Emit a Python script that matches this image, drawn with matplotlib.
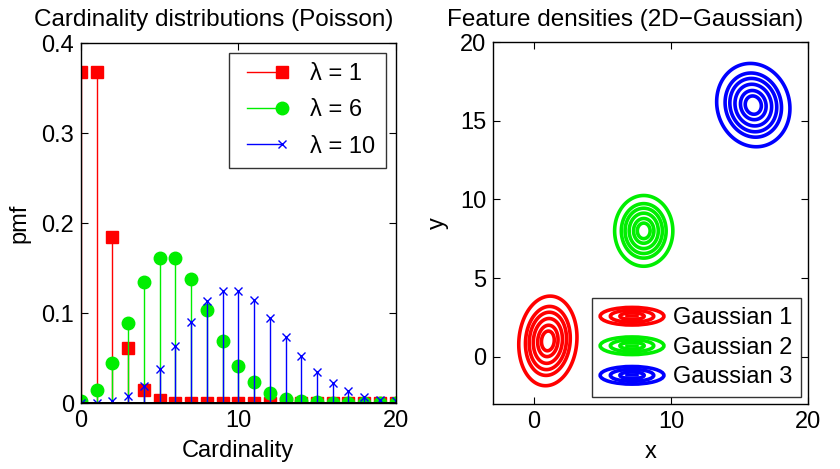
import numpy as np
import matplotlib
matplotlib.use("Agg")
import matplotlib.pyplot as plt
from matplotlib.lines import Line2D
from matplotlib.patches import Patch, Ellipse
from matplotlib.legend_handler import HandlerBase, HandlerLine2D

plt.rcParams['font.family'] = ['Liberation Sans', 'DejaVu Sans']

# ---------------- data ----------------
cardinality = list(range(21))
pmf_lam1 = [0.368, 0.368, 0.184, 0.061, 0.015, 0.003, 0.0005, 0.0001, 0, 0, 0,
            0, 0, 0, 0, 0, 0, 0, 0, 0, 0]
pmf_lam6 = [0.0025, 0.015, 0.045, 0.089, 0.134, 0.161, 0.161, 0.138, 0.103, 0.069,
            0.041, 0.023, 0.011, 0.005, 0.002, 0.0009, 0.0003, 0.0001, 0, 0, 0]
pmf_lam10 = [0.00005, 0.0005, 0.0023, 0.0076, 0.019, 0.038, 0.063, 0.090, 0.113,
             0.125, 0.125, 0.114, 0.095, 0.073, 0.052, 0.035, 0.022, 0.013, 0.007,
             0.0037, 0.0019]
poisson_labels = ['λ = 1', 'λ = 6', 'λ = 10']

gauss_labels = ['Gaussian 1', 'Gaussian 2', 'Gaussian 3']
gauss_means = [(1.0, 1.0), (8.0, 8.0), (16.0, 16.0)]
gauss_sx = [0.85, 0.85, 1.07]
gauss_sy = [1.14, 0.90, 1.06]
gauss_rho = [0.08, 0.0, -0.08]
contour_levels = [0.044, 0.157, 0.278, 0.458, 0.682, 0.86]   # relative density levels

red, green, blue = '#ff0000', '#00ee00', '#0000ff'

fig = plt.figure(figsize=(8.4, 4.69), dpi=100)
ax1 = fig.add_axes([0.0964, 0.1407, 0.3746, 0.7673])
ax2 = fig.add_axes([0.587, 0.139, 0.375, 0.771])

FS = 17


class HandlerEndMarker(HandlerLine2D):
    def create_artists(self, *args, **kwargs):
        arts = super().create_artists(*args, **kwargs)
        for a in arts:
            a.set_markevery([1])
        return arts


# ---------------- left: Poisson stems ----------------
series = [(pmf_lam1, red, 's', 8.5),
          (pmf_lam6, green, 'o', 9),
          (pmf_lam10, blue, 'x', 6)]
handles = []
for (vals, col, mk, ms), lab in zip(series, poisson_labels):
    ml, sl, bl = ax1.stem(cardinality, vals, basefmt='k-')
    sl.set_color(col)
    sl.set_linewidth(1.0)
    ml.set_marker(mk)
    ml.set_color(col)
    ml.set_markersize(ms)
    ml.set_markerfacecolor(col)
    ml.set_markeredgecolor(col)
    ml.set_markeredgewidth(1.0)
    bl.set_color('k')
    bl.set_linewidth(1.2)
    h = Line2D([0, 1], [0, 0], color=col, lw=1.0, marker=mk, markersize=ms,
               markerfacecolor=col, markeredgecolor=col, markeredgewidth=1.0)
    handles.append(h)

ax1.set_xlim(0, 20)
ax1.set_ylim(0, 0.4)
ax1.set_xticks([0, 10, 20])
ax1.set_yticks([0, 0.1, 0.2, 0.3, 0.4])
ax1.set_yticklabels(['0', '0.1', '0.2', '0.3', '0.4'])
ax1.set_xlabel('Cardinality', fontsize=FS, labelpad=6)
ax1.set_ylabel('pmf', fontsize=FS, labelpad=8)
ax1.set_title('Cardinality distributions (Poisson)', fontsize=17.5, pad=12,
              x=0.422)
leg1 = ax1.legend(handles, poisson_labels, loc='upper right', fontsize=FS,
                  numpoints=2, handlelength=2.1, frameon=True, fancybox=False,
                  edgecolor='k', borderaxespad=0.4, labelspacing=0.6,
                  borderpad=0.45, handletextpad=0.9,
                  handler_map={Line2D: HandlerEndMarker()})
leg1.get_frame().set_linewidth(1.0)

# ---------------- right: Gaussian contours ----------------
gx = np.linspace(-3, 20, 800)
gy = np.linspace(-3, 20, 800)
X, Y = np.meshgrid(gx, gy)
cols = [red, green, blue]
for (mx, my), sx, sy, rho, col in zip(gauss_means, gauss_sx, gauss_sy, gauss_rho, cols):
    dx = (X - mx) / sx
    dy = (Y - my) / sy
    q = (dx**2 - 2 * rho * dx * dy + dy**2) / (1 - rho**2)
    Z = np.exp(-0.5 * q)
    ax2.contour(X, Y, Z, levels=contour_levels, colors=[col], linewidths=2.6)

ax2.set_xlim(-3, 20)
ax2.set_ylim(-3, 20)
ax2.set_xticks([0, 10, 20])
ax2.set_yticks([0, 5, 10, 15, 20])
ax2.set_xlabel('x', fontsize=FS, labelpad=6)
ax2.set_ylabel('y', fontsize=FS, labelpad=8)
ax2.set_title('Feature densities (2D\u2212Gaussian)', fontsize=17.5, pad=12,
              x=0.419)


class HandlerRings(HandlerBase):
    def create_artists(self, legend, orig_handle, xdescent, ydescent, width,
                       height, fontsize, trans):
        cx = width / 2 - xdescent
        cy = height / 2 - ydescent
        arts = []
        for f in [1.0, 0.68, 0.38]:
            e = Ellipse((cx, cy), width * f, height * 0.9 * f, fill=False,
                        edgecolor=orig_handle.get_edgecolor(), lw=2.6,
                        transform=trans)
            arts.append(e)
        arts.append(Line2D([cx - width * 0.08, cx + width * 0.08], [cy, cy],
                           color=orig_handle.get_edgecolor(), lw=2.6,
                           transform=trans))
        return arts


ghandles = [Patch(edgecolor=c, facecolor='none') for c in cols]
leg2 = ax2.legend(ghandles, gauss_labels, loc='lower right', fontsize=FS,
                  handler_map={Patch: HandlerRings()}, handlelength=2.7,
                  handleheight=0.9, frameon=True, fancybox=False, edgecolor='k',
                  borderaxespad=0.3, labelspacing=0.28, borderpad=0.35,
                  handletextpad=0.4)
leg2.get_frame().set_linewidth(1.0)

for ax in (ax1, ax2):
    ax.tick_params(direction='in', top=True, right=True, length=5, width=0.8,
                   labelsize=FS, pad=5)
    for s in ax.spines.values():
        s.set_linewidth(1.0)

fig.savefig('out.png', dpi=100)
